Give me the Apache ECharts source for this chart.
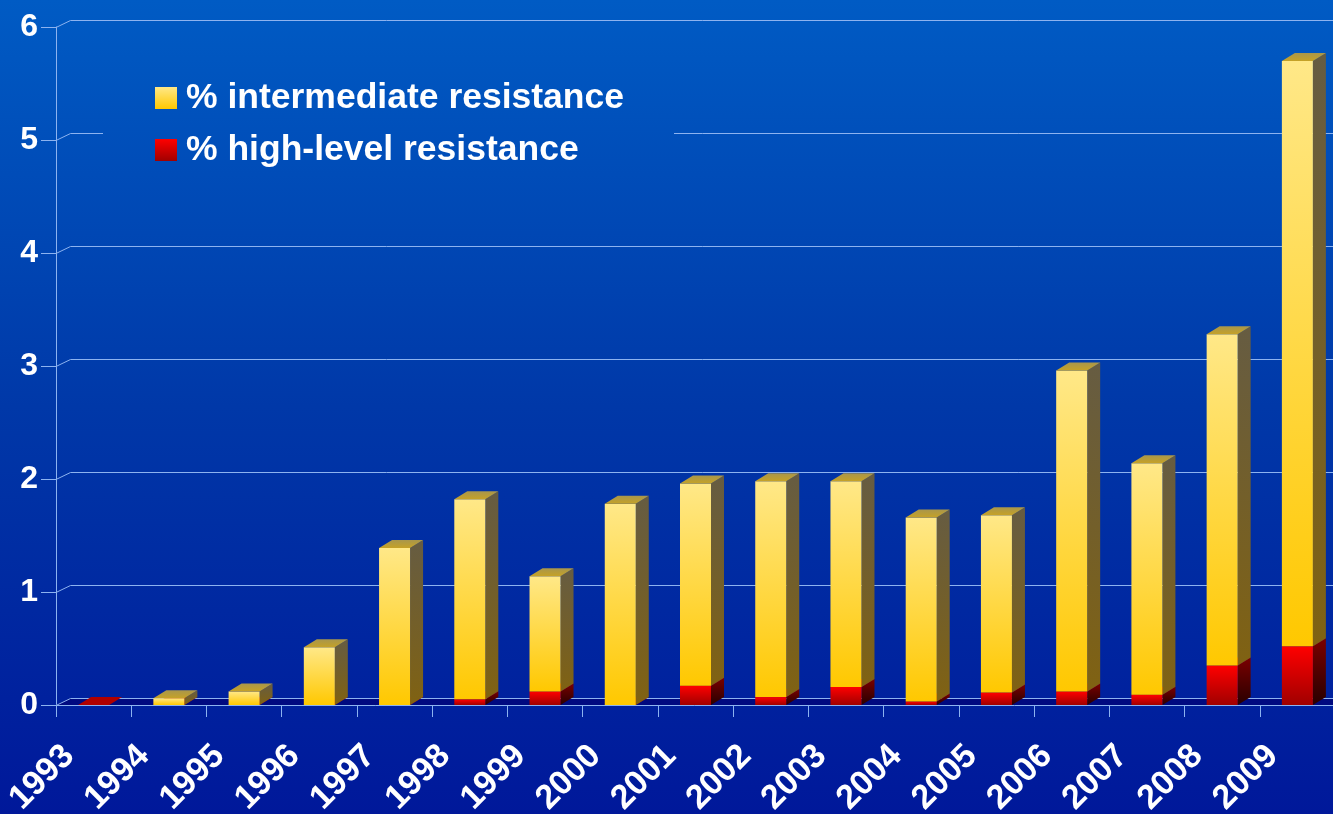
<!DOCTYPE html>
<html><head><meta charset="utf-8">
<script src="https://cdn.jsdelivr.net/npm/echarts@6/dist/echarts.min.js"></script>
<style>html,body{margin:0;padding:0;background:#0038a8}#c{width:1333px;height:814px}</style>
</head><body><div id="c"></div>
<script>
const years = ['1993','1994','1995','1996','1997','1998','1999','2000','2001','2002','2003','2004','2005','2006','2007','2008','2009'];
const highLevel    = [0, 0, 0, 0, 0, 0.05, 0.12, 0, 0.17, 0.07, 0.16, 0.03, 0.11, 0.12, 0.09, 0.35, 0.52];
const intermediate = [0, 0.06, 0.12, 0.51, 1.39, 1.77, 1.02, 1.78, 1.79, 1.91, 1.82, 1.63, 1.57, 2.84, 2.05, 2.93, 5.18];
const yTicks = [0, 1, 2, 3, 4, 5, 6];
const seriesNames = ['% intermediate resistance', '% high-level resistance'];

const FONT = '"Liberation Sans", Arial, Helvetica, sans-serif';
const GRID_COLOR = '#8DB3F0';
const bgStops = [{offset:0,color:'#005BC4'},{offset:0.5,color:'#0038A8'},{offset:1,color:'#00189A'}];
const bgGrad = {type:'linear', x:0, y:0, x2:0, y2:814, global:true, colorStops:bgStops};

function grad(c1, c2) {
  return {type:'linear', x:0, y:0, x2:0, y2:1, colorStops:[{offset:0,color:c1},{offset:1,color:c2}]};
}
const yellowPal = {front:['#FFE888','#FFC800'], side:['#665C42','#806212'], top:['#A8964C','#C6A226']};
const redPal = {front:['#FF0000','#A00000'], side:['#7A0000','#280000'], top:['#B00000','#B00000']};

function makeBar(pal, drawZero) {
  return function (params, api) {
    const i = api.value(0), b = api.value(1), t = api.value(2);
    if (!drawZero && t <= b) return null;
    const pb = api.coord([i, b]), pt = api.coord([i, t]);
    const L = pb[0] - 15.5, R = L + 31, yb = pb[1], yt = pt[1];
    const dx = 13, dy = 8;
    return {type:'group', children:[
      {type:'polygon', shape:{points:[[R,yb],[R+dx,yb-dy],[R+dx,yt-dy],[R,yt]]}, style:{fill:grad(pal.side[0], pal.side[1])}},
      {type:'rect', shape:{x:L, y:yt, width:R-L, height:Math.max(yb-yt,0)}, style:{fill:grad(pal.front[0], pal.front[1])}},
      {type:'polygon', shape:{points:[[L,yt],[L+dx,yt-dy],[R+dx,yt-dy],[R,yt]]}, style:{fill:grad(pal.top[0], pal.top[1])}}
    ]};
  };
}

const highData = years.map((y, i) => [i, 0, highLevel[i]]);
const interData = years.map((y, i) => [i, highLevel[i], highLevel[i] + intermediate[i]]);
const gridData = yTicks.map(v => [0, v]);

const chart = echarts.init(document.getElementById('c'), null, {renderer:'canvas'});
chart.setOption({
  animation:false,
  backgroundColor: bgGrad,
  grid:{left:56, right:-2, top:27, bottom:109, containLabel:false, outerBoundsMode:'none'},
  legend:{
    data: seriesNames, orient:'vertical', left:150, top:73, itemWidth:22, itemHeight:22, itemGap:12,
    icon:'rect', selectedMode:false,
    textStyle:{color:'#fff', fontSize:35.5, fontWeight:'bold', fontFamily:FONT, lineHeight:40, padding:[0,0,0,4]}
  },
  graphic:{elements:[
    {type:'rect', z:3, shape:{x:103, y:58, width:571, height:120}, style:{fill:bgGrad}}
  ]},
  xAxis:{
    type:'category', data:years,
    axisLine:{show:true, lineStyle:{color:GRID_COLOR, width:1}},
    axisTick:{show:true, length:12, lineStyle:{color:GRID_COLOR}},
    axisLabel:{interval:0, rotate:45, color:'#fff', fontSize:34, fontWeight:'bold', fontFamily:FONT, margin:21, padding:[0,35,0,0]},
    splitLine:{show:false}
  },
  yAxis:{
    type:'value', min:0, max:6, interval:1,
    axisLine:{show:true, lineStyle:{color:GRID_COLOR, width:1}},
    axisTick:{show:true, length:15, lineStyle:{color:GRID_COLOR}},
    axisLabel:{color:'#fff', fontSize:32, fontWeight:'bold', fontFamily:FONT, margin:18, padding:[6,0,0,0]},
    splitLine:{show:false}
  },
  series:[
    {
      type:'custom', name:'walls', z:1, silent:true, clip:false, data:gridData, encode:{x:0, y:1},
      renderItem:function (params, api) {
        const v = api.value(1);
        const cs = params.coordSys;
        const y = Math.round(api.coord([0, v])[1]);
        const x0 = cs.x, x1 = cs.x + cs.width;
        const children = [];
        if (v === 0) {
          children.push({type:'polygon', shape:{points:[[x0,y],[x0+14.5,y-7],[x1,y-7],[x1,y]]}, style:{fill:'#000A80'}});
        }
        children.push({type:'polyline', shape:{points:[[x0,y+0.5],[x0+14.5,y-6.5],[x1,y-6.5]]}, style:{stroke:GRID_COLOR, lineWidth:1, fill:null}});
        return {type:'group', children:children};
      }
    },
    {
      type:'custom', name:seriesNames[1], z:2, clip:false, data:highData, encode:{x:0, y:[1,2]},
      itemStyle:{color:grad('#FF0000','#A00000')},
      renderItem:makeBar(redPal, true)
    },
    {
      type:'custom', name:seriesNames[0], z:2, clip:false, data:interData, encode:{x:0, y:[1,2]},
      itemStyle:{color:grad('#FFE888','#FFC800')},
      renderItem:makeBar(yellowPal, false)
    }
  ]
});
</script>
</body></html>
